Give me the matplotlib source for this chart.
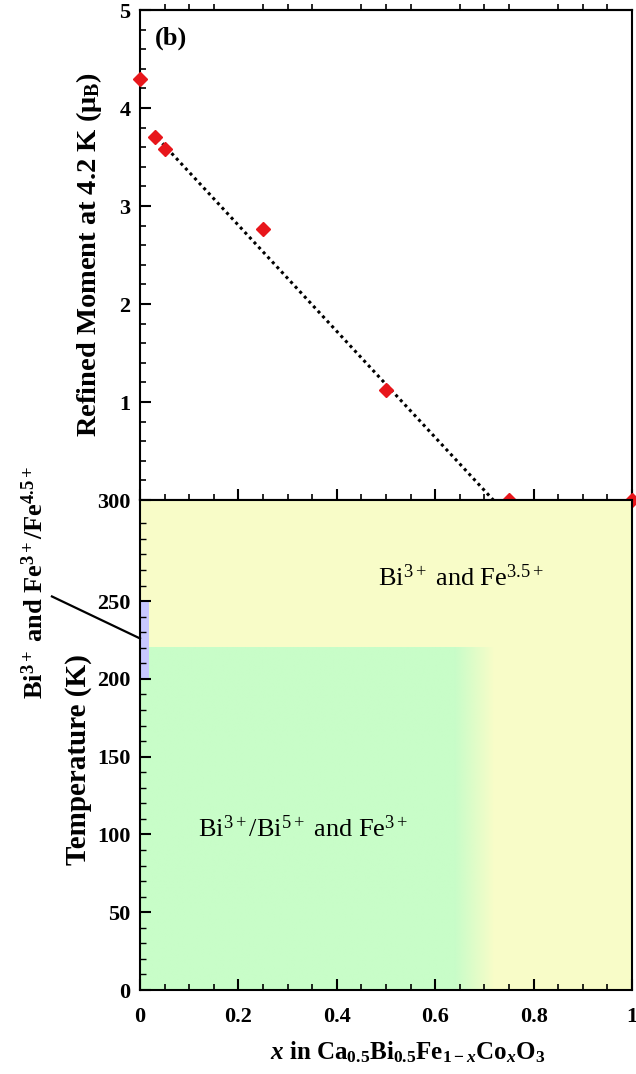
import numpy as np
import matplotlib
matplotlib.use("Agg")
import matplotlib.pyplot as plt
from matplotlib.ticker import MultipleLocator, FixedLocator, FixedFormatter

plt.rcParams['font.family'] = ['Liberation Serif', 'DejaVu Serif']
plt.rcParams['mathtext.fontset'] = 'custom'
plt.rcParams['mathtext.rm'] = 'Liberation Serif'
plt.rcParams['mathtext.it'] = 'Liberation Serif:italic'
plt.rcParams['mathtext.bf'] = 'Liberation Serif:bold'
try:
    plt.rcParams['mathtext.bfit'] = 'Liberation Serif:bold:italic'
    HAS_BFIT = True
except KeyError:
    HAS_BFIT = False
plt.rcParams['mathtext.default'] = 'rm'

# ---- data ----
x_comp = [0.0, 0.03, 0.05, 0.25, 0.50, 0.75, 1.00]
moment = [4.30, 3.70, 3.58, 2.77, 1.12, 0.0, 0.0]
fit_x = [0.027, 0.718]
fit_y = [3.74, 0.0]

# phase regions (x range, temperature range)
green_x = [0.0, 0.72]      # Bi3+/Bi5+ and Fe3+ (fades out 0.64 -> 0.72)
green_fade = [0.64, 0.72]
green_T = [0.0, 220.0]
blue_x = [0.0, 0.018]      # Bi3+ and Fe3+/Fe4.5+
blue_T = [200.0, 250.0]

x_ticks = [0, 0.2, 0.4, 0.6, 0.8, 1.0]
x_ticklabels = ['0', '0.2', '0.4', '0.6', '0.8', '1']
m_ticks = [1, 2, 3, 4, 5]
T_ticks = [0, 50, 100, 150, 200, 250, 315]
T_ticklabels = ['0', '50', '100', '150', '200', '250', '300']

YELLOW = '#F8FCC8'
GREEN = '#C8FDC8'
BLUE = '#C8C8FF'
RED = '#E8161B'

W, H = 636, 1074
fig = plt.figure(figsize=(W / 100, H / 100), dpi=100)
L, R = 140, 632
ax1 = fig.add_axes([L / W, 1 - 500 / H, (R - L) / W, 490 / H])
ax2 = fig.add_axes([L / W, 1 - 990 / H, (R - L) / W, 490 / H])

tick_font = dict(family='Liberation Serif', weight='bold', size=16)

# ---- top panel ----
ax1.set_xlim(0, 1)
ax1.set_ylim(0, 5)
ax1.plot(fit_x, fit_y, linestyle=(0, (1, 1.2)), color='k', lw=2.2, zorder=3)
ax1.plot(x_comp, moment, 'D', color=RED, ms=7.5, mec=RED, clip_on=False, zorder=6)
ax1.xaxis.set_major_locator(FixedLocator(x_ticks))
ax1.xaxis.set_minor_locator(MultipleLocator(0.05))
ax1.tick_params(axis='x', which='both', direction='in', bottom=True, top=False,
                labelbottom=False)
ax1.tick_params(axis='x', which='major', length=8, width=1.5)
ax1.tick_params(axis='x', which='minor', length=4.5, width=1.2)
ax1.yaxis.set_major_locator(FixedLocator(m_ticks))
ax1.yaxis.set_minor_locator(MultipleLocator(0.2))
ax1.tick_params(axis='y', which='both', direction='in', left=True, right=False, pad=7)
ax1.tick_params(axis='y', which='major', length=8, width=1.5)
ax1.tick_params(axis='y', which='minor', length=4.5, width=1.2)
for lab in ax1.get_yticklabels():
    lab.set(**tick_font)
sec = ax1.secondary_xaxis('top')
sec.xaxis.set_major_locator(FixedLocator([]))
sec.xaxis.set_minor_locator(FixedLocator([v for v in np.arange(0.05, 1.0, 0.05)
                                          if abs(v / 0.2 - round(v / 0.2)) > 1e-6]))
sec.tick_params(axis='x', which='minor', direction='out', length=4.5, width=1.2)
sec.tick_params(axis='x', labeltop=False)
sec.spines['top'].set_linewidth(1.5)
ax1.set_ylabel('Refined Moment at 4.2 K (μ$_{\\mathbf{B}}$)', family='Liberation Serif',
               weight='bold', size=20.5)
ax1.yaxis.set_label_coords(-0.074, 0.5)
ax1.text(0.03, 4.71, '(b)', family='Liberation Serif', weight='bold', size=19,
         ha='left', va='center')

# ---- bottom panel ----
ax2.set_xlim(0, 1)
ax2.set_ylim(0, 315)
ax2.set_facecolor(YELLOW)
ncol = 300
rgba = np.zeros((2, ncol, 4))
gc = matplotlib.colors.to_rgb(GREEN)
xs = np.linspace(green_x[0], green_x[1], ncol)
alpha = np.clip((green_fade[1] - xs) / (green_fade[1] - green_fade[0]), 0, 1)
rgba[..., 0], rgba[..., 1], rgba[..., 2] = gc
rgba[..., 3] = alpha
ax2.imshow(rgba, extent=[green_x[0], green_x[1], green_T[0], green_T[1]],
           aspect='auto', origin='lower', interpolation='bilinear', zorder=1)
ax2.fill_between(blue_x, blue_T[0], blue_T[1], color=BLUE, lw=0, zorder=2)
ax2.set_xlim(0, 1)
ax2.set_ylim(0, 315)

ax2.xaxis.set_major_locator(FixedLocator(x_ticks))
ax2.xaxis.set_major_formatter(FixedFormatter(x_ticklabels))
ax2.xaxis.set_minor_locator(MultipleLocator(0.05))
ax2.tick_params(axis='x', which='both', direction='in', bottom=True, top=False, pad=12)
ax2.tick_params(axis='x', which='major', length=8, width=1.5)
ax2.tick_params(axis='x', which='minor', length=4.5, width=1.2)
ax2.yaxis.set_major_locator(FixedLocator(T_ticks))
ax2.yaxis.set_major_formatter(FixedFormatter(T_ticklabels))
ax2.yaxis.set_minor_locator(FixedLocator([t for t in range(10, 301, 10) if t % 50 or t == 300]))
ax2.tick_params(axis='y', which='both', direction='in', left=True, right=False, pad=7)
ax2.tick_params(axis='y', which='major', length=8, width=1.5)
ax2.tick_params(axis='y', which='minor', length=4.5, width=1.0)
for lab in ax2.get_xticklabels() + ax2.get_yticklabels():
    lab.set(**tick_font)

ax2.set_ylabel('Temperature (K)', family='Liberation Serif', weight='bold', size=21)
ax2.yaxis.set_label_coords(-0.097, 0.47)
if HAS_BFIT:
    xl = r'$\mathbfit{x}$ in Ca$_{\mathbf{0.5}}$Bi$_{\mathbf{0.5}}$Fe$_{\mathbf{1-}\mathbfit{x}}$Co$_{\mathbfit{x}}$O$_{\mathbf{3}}$'
else:
    xl = r'$\mathit{x}$ in Ca$_{\mathbf{0.5}}$Bi$_{\mathbf{0.5}}$Fe$_{\mathbf{1-}\mathit{x}}$Co$_{\mathit{x}}$O$_{\mathbf{3}}$'
ax2.set_xlabel(xl, family='Liberation Serif', weight='bold', size=18, labelpad=8)
ax2.xaxis.set_label_coords(0.543, -0.1)

ax2.text(0.484, 265, r'Bi$^{3+}$ and Fe$^{3.5+}$', family='Liberation Serif',
         size=19, ha='left', va='center', zorder=5)
ax2.text(0.118, 104, r'Bi$^{3+}$/Bi$^{5+}$ and Fe$^{3+}$', family='Liberation Serif',
         size=19, ha='left', va='center', zorder=5)

fig.text(35 / W, 1 - 583 / H, r'Bi$^{\mathbf{3+}}$ and Fe$^{\mathbf{3+}}$/Fe$^{\mathbf{4.5+}}$',
         family='Liberation Serif', weight='bold', size=19, rotation=90,
         ha='center', va='center')
ax2.plot([-0.179, 0.0], [253, 226], color='k', lw=1.6, clip_on=False, zorder=6)

for ax in (ax1, ax2):
    for sp in ax.spines.values():
        sp.set_linewidth(1.5)
    ax.set_axisbelow(False)

fig.savefig('out.png', dpi=100)
